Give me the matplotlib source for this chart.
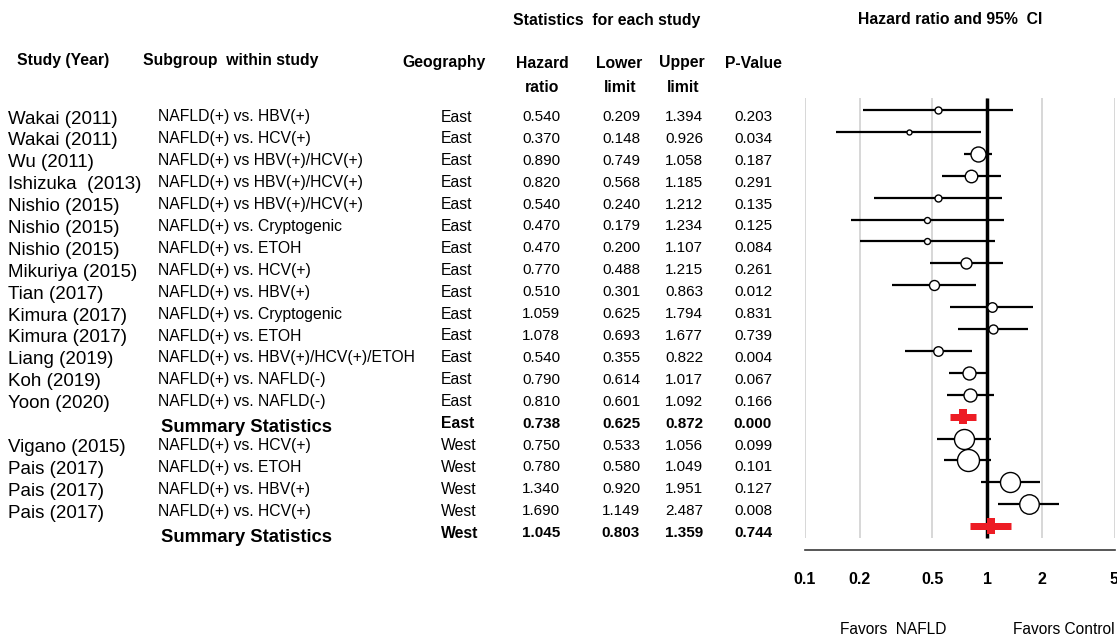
import matplotlib
matplotlib.use("Agg")
import matplotlib.pyplot as plt
import numpy as np

plt.rcParams['font.family'] = ['Liberation Sans', 'DejaVu Sans']

# ---------------- data ----------------
studies = ["Wakai (2011)", "Wakai (2011)", "Wu (2011)", "Ishizuka  (2013)", "Nishio (2015)",
           "Nishio (2015)", "Nishio (2015)", "Mikuriya (2015)", "Tian (2017)", "Kimura (2017)",
           "Kimura (2017)", "Liang (2019)", "Koh (2019)", "Yoon (2020)", "",
           "Vigano (2015)", "Pais (2017)", "Pais (2017)", "Pais (2017)", ""]
subgroups = ["NAFLD(+) vs. HBV(+)", "NAFLD(+) vs. HCV(+)", "NAFLD(+) vs HBV(+)/HCV(+)",
             "NAFLD(+) vs HBV(+)/HCV(+)", "NAFLD(+) vs HBV(+)/HCV(+)", "NAFLD(+) vs. Cryptogenic",
             "NAFLD(+) vs. ETOH", "NAFLD(+) vs. HCV(+)", "NAFLD(+) vs. HBV(+)",
             "NAFLD(+) vs. Cryptogenic", "NAFLD(+) vs. ETOH", "NAFLD(+) vs. HBV(+)/HCV(+)/ETOH",
             "NAFLD(+) vs. NAFLD(-)", "NAFLD(+) vs. NAFLD(-)", "Summary Statistics",
             "NAFLD(+) vs. HCV(+)", "NAFLD(+) vs. ETOH", "NAFLD(+) vs. HBV(+)",
             "NAFLD(+) vs. HCV(+)", "Summary Statistics"]
geography = ["East"] * 15 + ["West"] * 5
is_summary = [False] * 14 + [True] + [False] * 4 + [True]
hr = [0.540, 0.370, 0.890, 0.820, 0.540, 0.470, 0.470, 0.770, 0.510, 1.059,
      1.078, 0.540, 0.790, 0.810, 0.738, 0.750, 0.780, 1.340, 1.690, 1.045]
lower = [0.209, 0.148, 0.749, 0.568, 0.240, 0.179, 0.200, 0.488, 0.301, 0.625,
         0.693, 0.355, 0.614, 0.601, 0.625, 0.533, 0.580, 0.920, 1.149, 0.803]
upper = [1.394, 0.926, 1.058, 1.185, 1.212, 1.234, 1.107, 1.215, 0.863, 1.794,
         1.677, 0.822, 1.017, 1.092, 0.872, 1.056, 1.049, 1.951, 2.487, 1.359]
pvalue = ["0.203", "0.034", "0.187", "0.291", "0.135", "0.125", "0.084", "0.261", "0.012", "0.831",
          "0.739", "0.004", "0.067", "0.166", "0.000", "0.099", "0.101", "0.127", "0.008", "0.744"]
# relative study weight shown as marker diameter (pixels)
marker_px = [7, 5, 15, 12.5, 7, 6, 6, 11, 10, 9.5, 9, 9.5, 13, 13, 0, 20, 22, 20, 19.5, 0]
xticks = [0.1, 0.2, 0.5, 1, 2, 5]
xtick_labels = ["0.1", "0.2", "0.5", "1", "2", "5"]

# ---------------- figure ----------------
W, H = 1117, 636
DPI = 100
fig = plt.figure(figsize=(W / DPI, H / DPI), dpi=DPI)
PX = 72.0 / DPI  # points per pixel

# table (text) axes in pixel coordinates
tab = fig.add_axes([0, 0, 1, 1])
tab.set_xlim(0, W)
tab.set_ylim(H, 0)
tab.axis('off')

ROW0, DROW = 117.0, 21.9
n = len(hr)
for i in range(n):
    y = ROW0 + DROW * i
    summ = is_summary[i]
    fw = 'bold' if summ else 'normal'
    if studies[i]:
        tab.text(8, y + 2, studies[i], fontsize=13.5, ha='left', va='center')
    if summ:
        tab.text(161, y + 4, subgroups[i], fontsize=13.3, fontweight='bold', ha='left', va='center')
    else:
        tab.text(158, y, subgroups[i], fontsize=11.3, ha='left', va='center')
    tab.text(441, y, geography[i], fontsize=11.3, fontweight=fw, ha='left', va='center')
    tab.text(541, y, f"{hr[i]:.3f}", fontsize=11, fontweight=fw, ha='center', va='center')
    tab.text(621, y, f"{lower[i]:.3f}", fontsize=11, fontweight=fw, ha='center', va='center')
    tab.text(684, y, f"{upper[i]:.3f}", fontsize=11, fontweight=fw, ha='center', va='center')
    tab.text(753, y, pvalue[i], fontsize=11, fontweight=fw, ha='center', va='center')

hdr = dict(fontsize=11.3, fontweight='bold', va='center')
tab.text(607, 20, "Statistics  for each study", ha='center', **hdr)
tab.text(950, 20, "Hazard ratio and 95%  CI", ha='center', **hdr)
tab.text(17, 60, "Study (Year)", ha='left', **hdr)
tab.text(143, 60, "Subgroup  within study", ha='left', **hdr)
tab.text(444, 63, "Geography", ha='center', **hdr)
tab.text(542, 63, "Hazard", ha='center', **hdr)
tab.text(542, 87, "ratio", ha='center', **hdr)
tab.text(619, 63, "Lower", ha='center', **hdr)
tab.text(620, 87, "limit", ha='center', **hdr)
tab.text(682, 63, "Upper", ha='center', **hdr)
tab.text(683, 87, "limit", ha='center', **hdr)
tab.text(753, 63, "P-Value", ha='center', **hdr)
tab.text(840, 629, "Favors  NAFLD", fontsize=11.2, ha='left', va='center')
tab.text(1013, 629, "Favors Control", fontsize=11.2, ha='left', va='center')

# forest axes
top_px, bot_px = 98, 550
left_px, right_px = 805, 1114.5
ax = fig.add_axes([left_px / W, (H - bot_px) / H, (right_px - left_px) / W, (bot_px - top_px) / H])
ax.set_xscale('log')
ax.set_xlim(0.1, 5)
rtop = (top_px - 110) / DROW
rbot = (bot_px - 110) / DROW
ax.set_ylim(rbot, rtop)
ax.patch.set_alpha(0)

grid_bottom = (538 - 110) / DROW
ax.vlines(xticks, rtop, grid_bottom, colors='#d4d4d4', lw=1.3, zorder=0)
ax.vlines([1], rtop, grid_bottom, colors='black', lw=2.5, zorder=2)

for i in range(n):
    if is_summary[i]:
        ax.hlines(i, lower[i], upper[i], colors='#ed1c24', lw=7 * PX, zorder=4)
        ax.vlines(hr[i], i - 0.36, i + 0.36, colors='#ed1c24', lw=8 * PX, zorder=4)
    else:
        ax.hlines(i, lower[i], upper[i], colors='black', lw=1.6, zorder=3)
        ax.scatter(hr[i], i, s=(marker_px[i] * PX) ** 2, facecolor='white',
                   edgecolor='black', linewidth=1.0, zorder=5)

for s in ['top', 'left', 'right']:
    ax.spines[s].set_visible(False)
ax.spines['bottom'].set_color('#3a3a3a')
ax.spines['bottom'].set_linewidth(1.2)
ax.set_yticks([])
ax.set_xticks(xticks)
ax.set_xticklabels(xtick_labels, fontsize=11.5, fontweight='bold')
ax.xaxis.set_minor_locator(matplotlib.ticker.NullLocator())
ax.tick_params(axis='x', length=0, pad=16)
for lab in ax.get_xticklabels():
    lab.set_clip_on(False)

fig.savefig("out.png", dpi=DPI)
